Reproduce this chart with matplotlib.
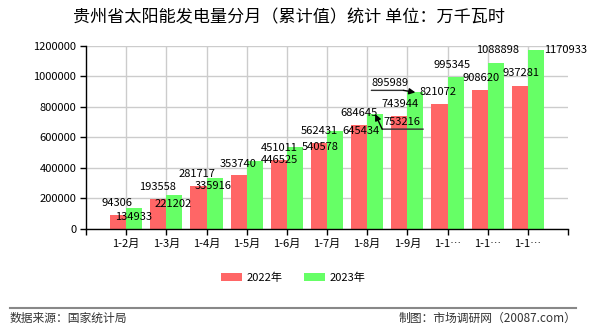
import matplotlib
matplotlib.use("Agg")
import matplotlib.pyplot as plt
from matplotlib.transforms import offset_copy
import numpy as np

plt.rcParams['font.family'] = ['Noto Sans CJK SC', 'DejaVu Sans']

months = ['1-2月', '1-3月', '1-4月', '1-5月', '1-6月', '1-7月', '1-8月',
          '1-9月', '1-1…', '1-1…', '1-1…']
val_2022 = [94306, 193558, 281717, 353740, 451011, 562431, 684645,
            743944, 821072, 908620, 937281]
val_2023 = [134933, 221202, 335916, 446525, 540578, 645434, 753216,
            895989, 995345, 1088898, 1170933]

# label nudges (pixels) so the value texts don't collide
off_2022 = [(-1, 12), (-1, 12), (-1, 12), (-1, 11), (0, 12), (0, 12),
            (0, 12), (1, 12), (-1, 12), (1, 12), (1, 13)]
off_2023 = [(-1, -9), (-1, -9), (-1, -8), (25, 1), (25, 0), (26, 0),
            (27, -8), (-25, 9), (-3, 12), (2, 13), (30, 0)]

RED = '#ff6666'
GREEN = '#66ff66'

fig = plt.figure(figsize=(5.9, 3.3), dpi=100)
ax = fig.add_axes([0.1458, 0.3061, 0.8169, 0.5545])

x = np.arange(len(months))
w = 0.4
ax.bar(x - w / 2, val_2022, w, color=RED, label='2022年', zorder=2)
ax.bar(x + w / 2, val_2023, w, color=GREEN, label='2023年', zorder=2)

ax.set_xlim(-1, 11)
ax.set_ylim(0, 1200000)
ax.set_yticks(np.arange(0, 1200001, 200000))
ax.set_yticklabels([str(v) for v in range(0, 1200001, 200000)])
ax.set_xticks(x)
ax.set_xticklabels(months)
ax.set_xticks([-1, 11], minor=True)
ax.grid(True, which='major', color='#cccccc', linewidth=1, zorder=0)
ax.set_axisbelow(True)
for s in ['top', 'right']:
    ax.spines[s].set_visible(False)
for s in ['left', 'bottom']:
    ax.spines[s].set_color('black')
    ax.spines[s].set_linewidth(1)
ax.tick_params(axis='both', which='both', length=4, width=1, color='black',
               labelsize=8, pad=3)


def px(dx, dy):
    return offset_copy(ax.transData, fig=fig, x=dx, y=dy, units='dots')


def label(xc, val, off):
    ax.annotate(str(val), xy=(xc, val), xytext=off, textcoords='offset pixels',
                ha='center', va='center', fontsize=8, color='black', zorder=5)


for i in range(len(months)):
    label(x[i] - w / 2, val_2022[i], off_2022[i])
    label(x[i] + w / 2, val_2023[i], off_2023[i])

# leader lines for the two displaced labels
lead = dict(arrowstyle='-', color='#333333', lw=1, shrinkA=0, shrinkB=0)
head = dict(arrowstyle='-|>', color='black', lw=1, shrinkA=0, shrinkB=0,
            mutation_scale=9)
i = 6
xi, yi = x[i] + w / 2, val_2023[i]
ax.annotate('', xy=(xi, yi), xycoords=px(7, -15), xytext=(xi, yi),
            textcoords=px(48, -15), arrowprops=lead, zorder=6)
ax.annotate('', xy=(xi, yi), xytext=(xi, yi), textcoords=px(7, -15),
            arrowprops=head, zorder=6)
i = 7
xi, yi = x[i] + w / 2, val_2023[i]
ax.annotate('', xy=(xi, yi), xycoords=px(-12, 2), xytext=(xi, yi),
            textcoords=px(-44, 2), arrowprops=lead, zorder=6)
ax.annotate('', xy=(xi, yi), xytext=(xi, yi), textcoords=px(-12, 2),
            arrowprops=head, zorder=6)

fig.text(0.49, 0.948, '贵州省太阳能发电量分月（累计值）统计 单位：万千瓦时',
         ha='center', va='center', fontsize=12.3, color='black')

fig.legend(loc='center', bbox_to_anchor=(0.497, 0.158), ncol=2, frameon=False,
           fontsize=8, handlelength=1.9, handleheight=0.8, handletextpad=0.4,
           columnspacing=1.9)

fig.add_artist(plt.Line2D([0.017, 0.977], [0.067, 0.067], color='#888888',
                          linewidth=1.5))
fig.text(0.017, 0.036, '数据来源：国家统计局', ha='left', va='center',
         fontsize=8.5, color='#333333')
fig.text(0.977, 0.036, '制图：市场调研网（20087.com）', ha='right', va='center',
         fontsize=8.5, color='#333333')

fig.savefig('out.png', dpi=100)
